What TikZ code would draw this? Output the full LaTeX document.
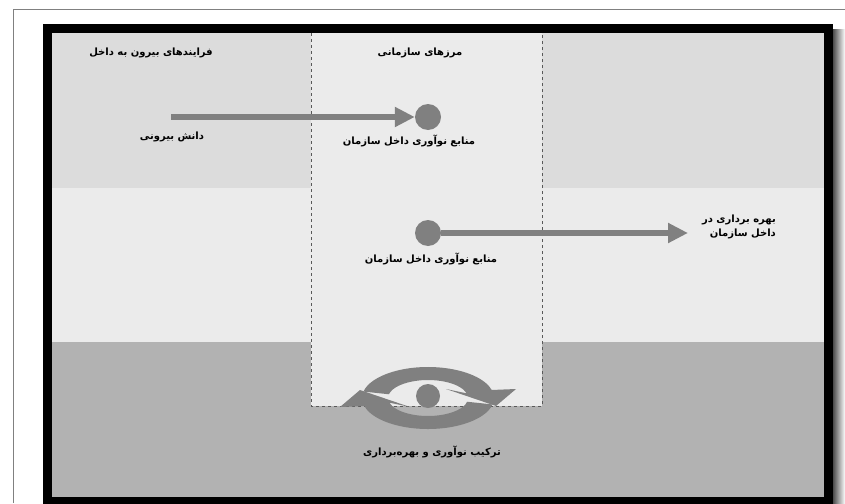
\documentclass[tikz,border=0pt]{standalone}
\usepackage{fontspec}
\usetikzlibrary{arrows.meta}
\newfontfamily\farsi[Script=Arabic]{DejaVu Sans}
\TeXXeTstate=1
\definecolor{arrowgray}{HTML}{808080}
\definecolor{topband}{HTML}{DCDCDC}
\definecolor{midband}{HTML}{EBEBEB}
\definecolor{lowband}{HTML}{B2B2B2}

\begin{document}
\begin{tikzpicture}[x=1pt, y=-1pt, every node/.style = {font=\farsi\bfseries\fontsize{10}{14}\selectfont, align=center, inner sep=0pt}]
  \tikzset{ flow/.style = {draw=arrowgray, line width=6pt, -{Triangle[length=20pt, width=19pt]}} }
  \tikzset{ dot/.style = {circle, fill=arrowgray, minimum size=26pt} }
  \useasboundingbox (0,0) rectangle (845,503);
  % page edge and shadow
  \draw[gray, line width=1pt] (13,503) |- (845,9.5);
  \shade[left color=black!70, right color=white] (833,30) rectangle (845,503);
  % bands
  \fill[topband] (52,33) rectangle (824,188);
  \fill[midband] (52,188) rectangle (824,342);
  \fill[lowband] (52,342) rectangle (824,497);
  \fill[midband] (311,33) rectangle (542,406);
  \draw[dashed, gray!70!black, line width=0.7pt] (311,33) |- (542,406) -- (542,33);
  \draw[line width=9pt] (47,29) rectangle (828.5,501.5);
  % labels of the bands
  \node (inbound) at (151,53) {\beginR فرایندهای بیرون به داخل\endR};
  \node (border) at (420,53) {\beginR مرزهای سازمانی\endR};
  % outside in
  \coordinate (ext) at (171,117);
  \node[dot] (dot1) at (428,117) {};
  \draw[flow] (ext) -- (dot1.west);
  \node (knowledge) at (172,137) {\beginR دانش بیرونی\endR};
  \node (source1) at (409,141) {\beginR منابع نوآوری داخل سازمان\endR};
  % inside out
  \node[dot] (dot2) at (428,233) {};
  \coordinate (exp) at (688,233);
  \draw[flow] (dot2.east) -- (exp);
  \node (source2) at (431,259) {\beginR منابع نوآوری داخل سازمان\endR};
  \node[anchor=north east, align=right] (use) at (776,215) {\beginR بهره برداری در\endR\\\beginR داخل سازمان\endR};
  % coupled
  \fill[arrowgray] ([shift={(428,398)}]192:66 and 31) arc[start angle=192, end angle=345, x radius=66, y radius=31]
    -- (516,389) -- (496,406) -- (446,389) -- ([shift={(428,398)}]345:40 and 18)
    arc[start angle=345, end angle=192, x radius=40, y radius=18] -- cycle;
  \fill[arrowgray] ([shift={(428,398)}]12:66 and 31) arc[start angle=12, end angle=165, x radius=66, y radius=31]
    -- (340,407) -- (360,390) -- (410,407) -- ([shift={(428,398)}]165:40 and 18)
    arc[start angle=165, end angle=12, x radius=40, y radius=18] -- cycle;
  \node[dot, minimum size=24pt] (dot3) at (428,396) {};
  \node (coupled) at (432,452) {\beginR ترکیب نوآوری و بهره‌برداری\endR};
\end{tikzpicture}
\end{document}
